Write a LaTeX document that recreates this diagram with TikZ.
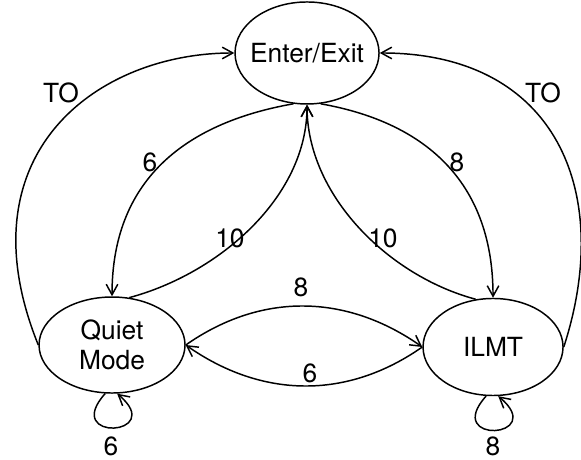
\documentclass[tikz,border=0pt]{standalone}
\usepackage{fontspec}
\setmainfont{TeX Gyre Heros}
\usepackage{tikz}
\usetikzlibrary{shapes.geometric,arrows.meta}
\tikzset{
  state/.style={ellipse, draw, line width=0.7pt, inner xsep=-4pt, inner ysep=0pt, align=center,
    font=\fontsize{12.5}{14.5}\selectfont},
  arr/.style={line width=0.7pt, -{Straight Barb[length=5pt,width=5.5pt]}},
  lab/.style={inner sep=0pt, font=\fontsize{12.5}{14.5}\selectfont}
}
\begin{document}
\begin{tikzpicture}
  \useasboundingbox (0,0) rectangle (9.683,-7.65);

  \node[state, minimum width=2.4cm, minimum height=1.7cm] (ee) at (5.117,-0.883) {Enter/Exit};
  \node[state, minimum width=2.433cm, minimum height=1.6cm] (qm) at (1.867,-5.75) {Quiet\\Mode};
  \node[state, minimum width=2.333cm, minimum height=1.617cm] (il) at (8.217,-5.783) {ILMT};

  % timeouts back to the top
  \draw[arr] (qm.west) to[out=112, in=180, out looseness=1.5, in looseness=1.0] (ee.west);
  \draw[arr] (il.east) to[out=72, in=0, out looseness=1.2, in looseness=1.3] (ee.east);

  % top <-> bottom states
  \draw[arr] (ee.-105) to[out=190, in=90, looseness=1.1] (qm.north);
  \draw[arr] (qm.70) to[out=15, in=-90, looseness=0.9] (ee.south);
  \draw[arr] (ee.-75) to[out=-10, in=90, looseness=1.1] (il.north);
  \draw[arr] (il.110) to[out=165, in=-90, looseness=0.9] (ee.south);

  % between the bottom states
  \draw[arr] (qm.east) to[out=35, in=145] (il.west);
  \draw[arr] (il.west) to[out=-145, in=-35] (qm.east);

  % self loops
  \draw[arr] (qm.262) .. controls +(-132:1.1) and +(-40:1.1) .. (qm.276);
  \draw[arr] (il.262) .. controls +(-132:1.1) and +(-40:1.1) .. (il.276);

  \node[lab] (toqm) at (1.017,-1.55) {TO};
  \node[lab] (toil) at (9.05,-1.55) {TO};
  \node[lab] (eeqm) at (2.5,-2.7) {6};
  \node[lab] (eeil) at (7.617,-2.7) {8};
  \node[lab] (qmee) at (3.833,-3.967) {10};
  \node[lab] (ilee) at (6.383,-3.967) {10};
  \node[lab] (qmil) at (5.017,-4.783) {8};
  \node[lab] (ilqm) at (5.167,-6.217) {6};
  \node[lab] (qmqm) at (1.85,-7.44) {6};
  \node[lab] (ilil) at (8.217,-7.44) {8};
\end{tikzpicture}
\end{document}
